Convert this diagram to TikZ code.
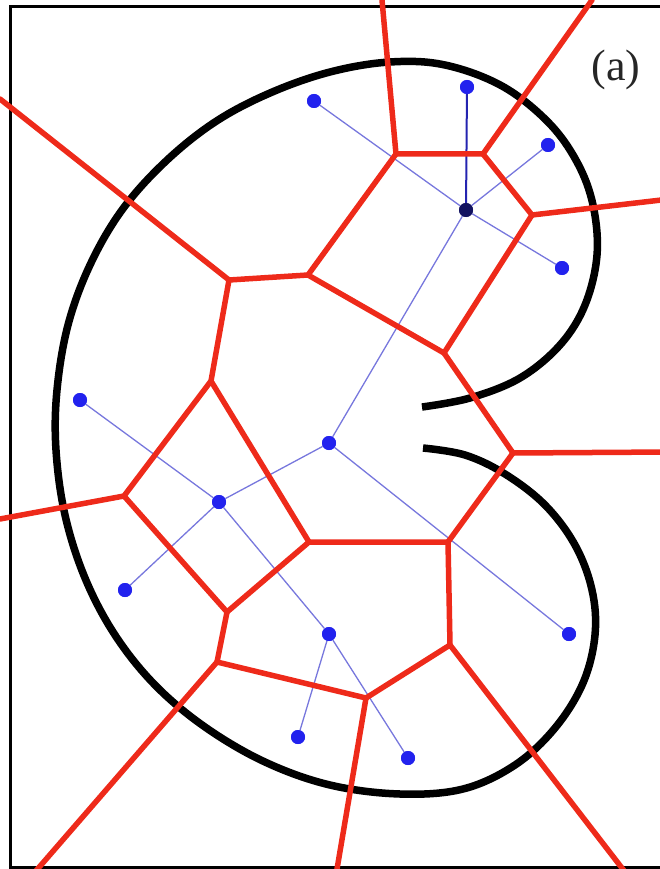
\documentclass[tikz,border=0pt]{standalone}
\usepackage{fontspec}
\setmainfont{Liberation Serif}
\definecolor{vred}{HTML}{EE2A1A}
\definecolor{sitec}{HTML}{2222EE}
\definecolor{darksite}{HTML}{121260}
\definecolor{skel}{HTML}{7777DD}
\definecolor{skeldark}{HTML}{2424B0}
\tikzset{
  site/.style={circle,fill=sitec,inner sep=0pt,minimum size=14pt},
  hubsite/.style={circle,fill=darksite,inner sep=0pt,minimum size=14pt},
  skelline/.style={draw=skel,line width=1.3pt},
  skelstrong/.style={draw=skeldark,line width=2pt},
  voredge/.style={draw=vred,line width=5.5pt,line join=round,line cap=round},
  boundary/.style={draw=black,line width=7.5pt},
  framel/.style={draw=black,line width=3pt}
}
\begin{document}
\begin{tikzpicture}[x=1pt,y=-1pt]
\useasboundingbox (0,0) rectangle (660,869);
\clip (0,0) rectangle (660,869);
% frame
\draw[framel] (680,7) -- (10,7) -- (10,867) -- (680,867);
% kidney boundary
\draw[boundary] plot[smooth,tension=0.6] coordinates {
 (422,407) (470,398) (520,378) (560,345) (585,305) (597,255) (593,205)
 (577,162) (548,122) (502,86) (445,65) (390,62) (330,72) (270,93)
 (215,122) (165,162) (122,210) (90,265) (68,325) (57,390) (56,450)
 (65,515) (85,578) (115,635) (155,685) (205,727) (265,762) (330,785)
 (400,794) (463,789) (515,765) (555,728) (583,683) (595,635) (592,590)
 (575,545) (545,505) (505,474) (465,455) (423,448)};
% sites
\node[site] (s1) at (314,101) {};
\node[site] (s2) at (467,87) {};
\node[site] (s3) at (548,145) {};
\node[hubsite] (s4) at (466,210) {};
\node[site] (s5) at (562,268) {};
\node[site] (s6) at (80,400) {};
\node[site] (s7) at (329,443) {};
\node[site] (s8) at (219,502) {};
\node[site] (s9) at (125,590) {};
\node[site] (s10) at (329,634) {};
\node[site] (s11) at (569,634) {};
\node[site] (s12) at (298,737) {};
\node[site] (s13) at (408,758) {};
% skeleton
\draw[skelline] (s1) -- (s4);
\draw[skelline] (s4) -- (s5);
\draw[skelline] (s3) -- (s4);
\draw[skelline] (s4) -- (s7);
\draw[skelline] (s7) -- (s8);
\draw[skelline] (s7) -- (s11);
\draw[skelline] (s6) -- (s8);
\draw[skelline] (s8) -- (s9);
\draw[skelline] (s8) -- (s10);
\draw[skelline] (s10) -- (s12);
\draw[skelline] (s10) -- (s13);
\draw[skelstrong] (s2) -- (s4);
% voronoi vertices
\coordinate (A) at (396,154);
\coordinate (B) at (483,154);
\coordinate (C) at (532,215);
\coordinate (D) at (229,280);
\coordinate (E) at (308,275);
\coordinate (F) at (444,353);
\coordinate (G) at (513,453);
\coordinate (H) at (211,381);
\coordinate (I) at (124,496);
\coordinate (J) at (309,542);
\coordinate (K) at (448,542);
\coordinate (L) at (227,612);
\coordinate (M) at (217,662);
\coordinate (N) at (366,698);
\coordinate (O) at (450,645);
% far ends
\coordinate (tA) at (382,0);
\coordinate (tB) at (592,0);
\coordinate (rC) at (670,199);
\coordinate (lD) at (0,99);
\coordinate (rG) at (670,452);
\coordinate (lI) at (0,519);
\coordinate (bM) at (35,872);
\coordinate (bN) at (336,875);
\coordinate (bO) at (625,872);
% voronoi edges
\draw[voredge] (tA) -- (A) -- (B) -- (tB);
\draw[voredge] (B) -- (C) -- (rC);
\draw[voredge] (A) -- (E) -- (D) -- (lD);
\draw[voredge] (E) -- (F) -- (C);
\draw[voredge] (F) -- (G) -- (rG);
\draw[voredge] (G) -- (K);
\draw[voredge] (D) -- (H) -- (I) -- (lI);
\draw[voredge] (H) -- (J) -- (K) -- (O);
\draw[voredge] (I) -- (L) -- (J);
\draw[voredge] (L) -- (M) -- (N) -- (O) -- (bO);
\draw[voredge] (M) -- (bM);
\draw[voredge] (N) -- (bN);
% redraw sites on top
\foreach \n in {s1,s2,s3,s5,s6,s7,s8,s9,s10,s11,s12,s13}
  \fill[sitec] (\n) circle (7pt);
\fill[darksite] (s4) circle (7pt);
% label
\node[font=\fontsize{44}{44}\selectfont,text=black!85] (lab) at (616,70) {(a)};
\end{tikzpicture}
\end{document}
